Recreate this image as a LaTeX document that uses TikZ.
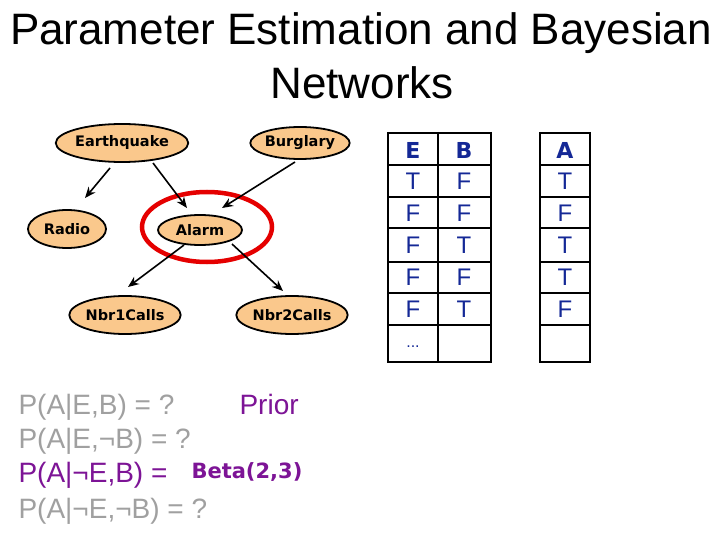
\documentclass[tikz,border=0pt]{standalone}
\usepackage{fontspec}
\setmainfont{Liberation Sans}
\newfontfamily\comic{DejaVu Sans}
\usetikzlibrary{shapes.geometric,arrows.meta}
\definecolor{nodefill}{RGB}{250,200,140}
\definecolor{pur}{RGB}{125,20,150}
\definecolor{gr}{RGB}{160,160,160}
\definecolor{tblue}{RGB}{20,40,150}
\tikzset{
  bn/.style={ellipse,draw,line width=1.8pt,fill=nodefill,inner sep=0pt,font=\comic\bfseries\fontsize{14.5}{14.5}\selectfont},
  arr/.style={-{Stealth[length=11pt,width=9pt]},line width=1.6pt},
  cell/.style={font=\fontsize{24}{24}\selectfont,text=tblue},
  grid/.style={line width=2.4pt},
  eq/.style={anchor=base west,font=\fontsize{28}{28}\selectfont}
}
\begin{document}
\begin{tikzpicture}[x=1pt,y=-1pt]
\useasboundingbox[fill=white] (0,0) rectangle (720,540);
\node[font=\fontsize{44}{44}\selectfont] (t1) at (361,33) {Parameter Estimation and Bayesian};
\node[font=\fontsize{44}{44}\selectfont] (t2) at (362,83) {Networks};
% network
\node[bn,minimum width=112pt,minimum height=38pt] (eq) at (122,143) {Earthquake};
\node[bn,minimum width=90pt,minimum height=32pt] (bu) at (300,143) {Burglary};
\node[bn,minimum width=78pt,minimum height=38pt] (ra) at (67,229) {Radio};
\node[bn,minimum width=84pt,minimum height=30pt] (al) at (200,230) {Alarm};
\node[bn,minimum width=102pt,minimum height=38pt] (n1) at (125,315) {Nbr1Calls};
\node[bn,minimum width=104pt,minimum height=38pt] (n2) at (292,315) {Nbr2Calls};
\node[ellipse,draw=red!90!black,line width=4.5pt,minimum width=130pt,minimum height=70pt] (ring) at (207,227) {};
\draw[arr] (110,168) -- (85,198);
\draw[arr] (153,163) -- (187,208);
\draw[arr] (295,162) -- (222,208);
\draw[arr] (184,245) -- (128,287);
\draw[arr] (232,244) -- (283,291);
% table
\foreach \y in {133,165,197,228,262,293,325,362}{
  \draw[grid] (388,\y) -- (491,\y);
  \draw[grid] (540,\y) -- (590,\y);
}
\foreach \x in {388,438,491,540,590}{\draw[grid] (\x,132) -- (\x,363);}
\node[cell,font=\comic\bfseries\fontsize{22}{22}\selectfont] (hE) at (413,150) {E};
\node[cell,font=\comic\bfseries\fontsize{22}{22}\selectfont] (hB) at (464,150) {B};
\node[cell,font=\comic\bfseries\fontsize{22}{22}\selectfont] (hA) at (565,150) {A};
\foreach \e/\b/\a [count=\i] in {T/F/T,F/F/F,F/T/T,F/F/T,F/T/F}{
  \pgfmathsetmacro\yy{149+\i*32}
  \node[cell] at (413,\yy) {\e};
  \node[cell] at (464,\yy) {\b};
  \node[cell] at (565,\yy) {\a};
}
\node[cell,font=\fontsize{16}{16}\selectfont] (dots) at (413,347) {...};
% equations
\node[eq,text=gr] (p1) at (15,414) {P(A|E,B) = ?};
\node[eq,text=pur] (pr) at (236,414) {Prior};
\node[eq,text=gr] (p2) at (15,448) {P(A|E,¬B) = ?};
\node[eq,text=pur] (p3) at (15,482) {P(A|¬E,B) =};
\node[anchor=base west,text=pur,font=\comic\bfseries\fontsize{21}{21}\selectfont] (beta) at (188,478) {Beta(2,3)};
\node[eq,text=gr] (p4) at (15,518) {P(A|¬E,¬B) = ?};
\end{tikzpicture}
\end{document}
